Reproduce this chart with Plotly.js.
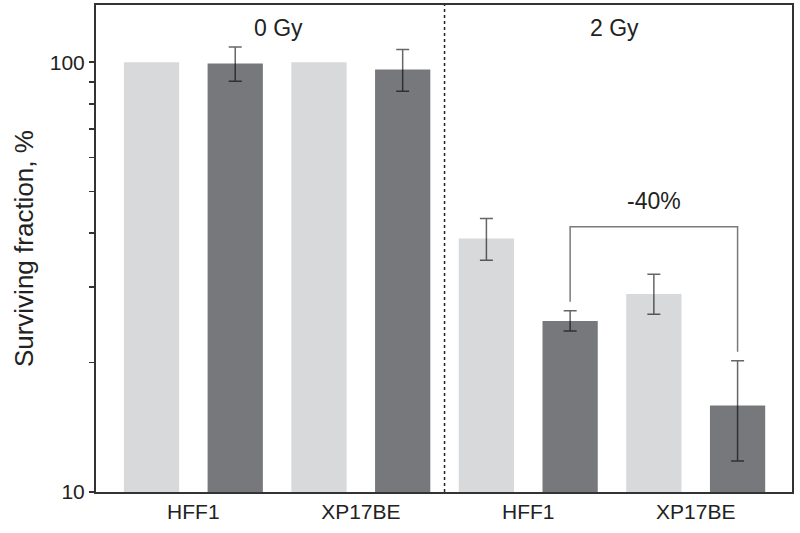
<!DOCTYPE html>
<html>
<head>
<meta charset="utf-8">
<script src="https://cdn.plot.ly/plotly-3.0.1.min.js"></script>
<style>
  html, body { margin: 0; padding: 0; background: #fff; }
  #chart { width: 800px; height: 533px; }
</style>
</head>
<body>
<div id="chart"></div>
<script>
// Surviving fraction after 0 / 2 Gy, two cell lines, two conditions each
const doses = ['0 Gy', '2 Gy'];
const cellLines = ['HFF1', 'XP17BE', 'HFF1', 'XP17BE'];

// light bars (no error on the 0 Gy controls)
const lightVals = [100, 100, 38.9, 28.9];
const lightHigh = [NaN, NaN, 43.3, 32.1];
const lightLow = [NaN, NaN, 34.6, 25.9];

// dark bars
const darkVals = [99.3, 96.2, 25.0, 15.9];
const darkHigh = [108.5, 107.0, 26.4, 20.2];
const darkLow = [90.3, 85.6, 23.7, 11.8];

// comparison bracket between the 2 Gy dark bars
const bracketLabel = '-40%';
const bracketY = [27.7, 41.4, 41.4, 21.2];

const lightX = cellLines.map((_, i) => 2 * i);
const darkX = cellLines.map((_, i) => 2 * i + 1);
const up = (hi, v) => hi.map((h, i) => h - v[i]);
const down = (lo, v) => lo.map((l, i) => v[i] - l);

const errStyle = { type: 'data', symmetric: false, color: 'rgba(0,0,0,0.6)', thickness: 1.5, width: 6.5 };

const traces = [
  {
    type: 'bar', x: lightX, y: lightVals, width: 0.66,
    marker: { color: '#d8d9db' },
    error_y: Object.assign({ array: up(lightHigh, lightVals), arrayminus: down(lightLow, lightVals) }, errStyle)
  },
  {
    type: 'bar', x: darkX, y: darkVals, width: 0.66,
    marker: { color: '#77787c' },
    error_y: Object.assign({ array: up(darkHigh, darkVals), arrayminus: down(darkLow, darkVals) }, errStyle)
  },
  {
    type: 'scatter', mode: 'lines',
    x: [darkX[2], darkX[2], darkX[3], darkX[3]], y: bracketY,
    line: { color: '#7a7a7a', width: 1.5 }, hoverinfo: 'skip'
  }
];

const layout = {
  width: 800, height: 533,
  margin: { l: 96, r: 8, t: 5, b: 41 },
  paper_bgcolor: '#fff', plot_bgcolor: '#fff',
  showlegend: false,
  font: { family: 'Liberation Sans, Arial, sans-serif', color: '#222', size: 21 },
  xaxis: {
    range: [-0.663, 7.65],
    tickvals: cellLines.map((_, i) => 2 * i + 0.5),
    ticktext: cellLines,
    showgrid: false, zeroline: false,
    showline: true, linecolor: '#333', linewidth: 2, mirror: true,
    ticks: '', tickfont: { size: 21, color: '#222' }
  },
  yaxis: {
    type: 'log', range: [1, 2.133],
    tickvals: [10, 20, 30, 40, 50, 60, 70, 80, 90, 100],
    ticktext: ['10', '', '', '', '', '', '', '', '', '100'],
    showgrid: false, zeroline: false,
    showline: true, linecolor: '#333', linewidth: 2, mirror: true,
    ticks: 'outside', ticklen: 5, tickwidth: 1.5, tickcolor: '#333',
    tickfont: { size: 21, color: '#222' }
  },
  shapes: [
    { type: 'line', xref: 'x', yref: 'paper', x0: 3.5, x1: 3.5, y0: 0, y1: 1,
      line: { color: '#222', width: 1.5, dash: 'dot' } }
  ],
  annotations: [
    // y axis title, placed by hand to sit where the reference has it
    { text: 'Surviving fraction, %', xref: 'paper', yref: 'paper', x: -0.104, y: 0.5,
      textangle: -90, showarrow: false, xanchor: 'center', yanchor: 'middle',
      font: { size: 26, color: '#222' } },
    { text: doses[0], xref: 'x', yref: 'paper', x: 1.52, y: 0.953, yanchor: 'middle', showarrow: false,
      font: { size: 23, color: '#222' } },
    { text: doses[1], xref: 'x', yref: 'paper', x: 5.53, y: 0.953, yanchor: 'middle', showarrow: false,
      font: { size: 23, color: '#222' } },
    { text: bracketLabel, xref: 'x', yref: 'y', x: 6.0, y: Math.log10(47.6), showarrow: false,
      font: { size: 23, color: '#222' } }
  ]
};

Plotly.newPlot('chart', traces, layout, { displayModeBar: false, staticPlot: true });
</script>
</body>
</html>
